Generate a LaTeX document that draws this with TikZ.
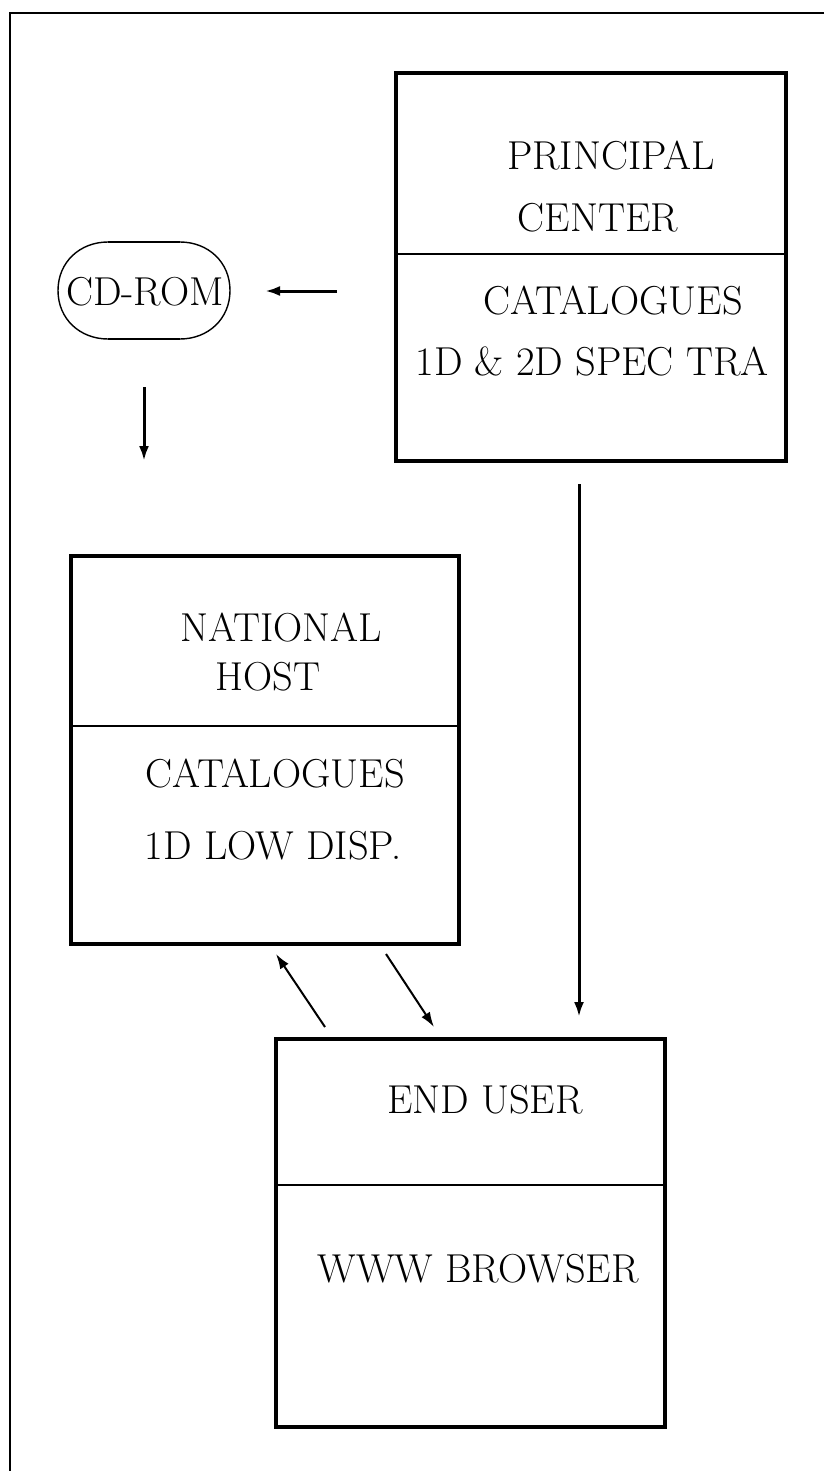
\documentclass[tikz,border=0pt]{standalone}
\usetikzlibrary{arrows.meta}
\begin{document}
\begin{tikzpicture}[x=0.5pt,y=-0.5pt,
  lbl/.style={anchor=base,inner sep=0pt,font=\fontsize{20.2pt}{24pt}\selectfont},
  divider/.style={line width=1.3pt},
  conn/.style={line width=1.5pt,-{Latex[length=7.5pt,width=5pt]}},
  diag/.style={line width=1pt,-{Latex[length=7.5pt,width=5pt]}}]
\useasboundingbox (0,0) rectangle (824,1471);
% outer frame
\draw[line width=1.3pt] (824,13) -- (10,13) -- (10,1471);
% principal center
\node[draw,line width=1.6pt,minimum width=195pt,minimum height=194pt,inner sep=0pt] (pc) at (591,267) {};
\draw[divider] (396,254) -- (786,254);
\node[lbl] (pc1) at (611,170) {PRINCIPAL};
\node[lbl] (pc2) at (598,232) {CENTER};
\node[lbl] (pc3) at (613,314) {CATALOGUES};
\node[lbl] (pc4) at (592,375) {1D \& 2D SPEC TRA};
% national host
\node[draw,line width=1.6pt,minimum width=194pt,minimum height=194pt,inner sep=0pt] (nh) at (265,750) {};
\draw[divider] (71,726) -- (459,726);
\node[lbl] (nh1) at (281,641) {NATIONAL};
\node[lbl] (nh2) at (268,690) {HOST};
\node[lbl] (nh3) at (275,787) {CATALOGUES};
\node[lbl] (nh4) at (273,859) {1D LOW DISP.};
% end user
\node[draw,line width=1.6pt,minimum width=194.5pt,minimum height=194pt,inner sep=0pt] (eu) at (470.5,1233) {};
\draw[divider] (276,1185) -- (665,1185);
\node[lbl] (eu1) at (485,1113) {END USER};
\node[lbl] (eu2) at (478,1282) {WWW BROWSER};
% CD-ROM
\node[lbl] (cd) at (145,305) {CD-ROM};
\draw[line width=0.7pt] (108,242) .. controls (80,242) and (58,262) .. (58,290.5)
  .. controls (58,319) and (80,339) .. (108,339);
\draw[line width=0.7pt] (180,242) .. controls (208,242) and (230,262) .. (230,290.5)
  .. controls (230,319) and (208,339) .. (180,339);
\draw[line width=1.4pt] (108,242) -- (180,242);
\draw[line width=1.4pt] (108,339) -- (180,339);
% connector end points
\coordinate (a1s) at (337,291);
\coordinate (a1e) at (265,291);
\coordinate (a2s) at (144,387);
\coordinate (a2e) at (144,461);
\coordinate (a3s) at (579,484);
\coordinate (a3e) at (579,1017);
\coordinate (a4s) at (325,1027);
\coordinate (a4e) at (276,954);
\coordinate (a5s) at (386,954);
\coordinate (a5e) at (434,1027);
\draw[conn] (a1s) -- (a1e);
\draw[conn] (a2s) -- (a2e);
\draw[conn] (a3s) -- (a3e);
\draw[diag] (a4s) -- (a4e);
\draw[diag] (a5s) -- (a5e);
\end{tikzpicture}
\end{document}
